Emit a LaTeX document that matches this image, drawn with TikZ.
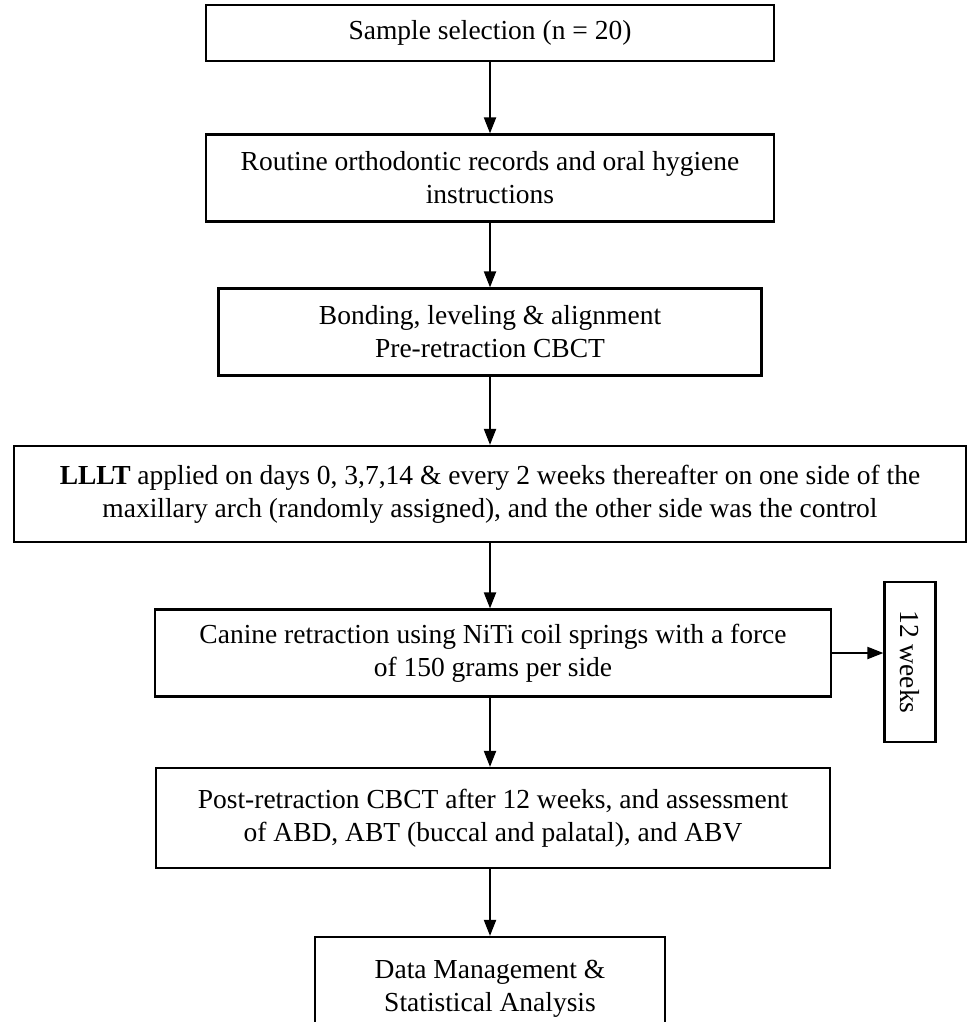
\documentclass[tikz,border=0pt]{standalone}
\usepackage{fontspec}
\setmainfont{Liberation Serif}
\usetikzlibrary{arrows.meta,positioning}

\tikzset{
  stepbox/.style={draw, line width=2.2pt, align=center, inner sep=0pt,
    font=\fontsize{27.5}{33}\selectfont},
  flow/.style={-{Triangle[length=16pt,width=12pt]}, line width=2pt}
}

\begin{document}
\begin{tikzpicture}[x=1pt,y=-1pt]
  \useasboundingbox (0,0) rectangle (966,1022);
  \node[stepbox, minimum width=568pt, minimum height=56pt] (sample) at (490,33)
    {Sample selection (n = 20)};
  \node[stepbox, minimum width=568pt, minimum height=87pt] (routine) at (490,178)
    {Routine orthodontic records and oral hygiene\\ instructions};
  \node[stepbox, minimum width=543pt, minimum height=87pt] (bonding) at (490,332)
    {Bonding, leveling \& alignment\\ Pre-retraction CBCT};
  \node[stepbox, minimum width=952pt, minimum height=96pt] (lllt) at (490,494)
    {\textbf{LLLT} applied on days 0, 3,7,14 \& every 2 weeks thereafter on one side of the\\ maxillary arch (randomly assigned), and the other side was the control};
  \node[stepbox, minimum width=676pt, minimum height=87pt] (canine) at (493,653)
    {Canine retraction using NiTi coil springs with a force\\ of 150 grams per side};
  \node[stepbox, rotate=-90, minimum width=160pt, minimum height=51pt] (weeks) at (910,662)
    {12 weeks};
  \node[stepbox, minimum width=674pt, minimum height=100pt] (post) at (493,818)
    {Post-retraction CBCT after 12 weeks, and assessment\\ of ABD, ABT (buccal and palatal), and ABV};
  \node[stepbox, minimum width=350pt, minimum height=104pt] (data) at (490,989)
    {Data Management \&\\ Statistical Analysis};

  \path[flow]
    (sample) edge (routine)
    (routine) edge (bonding)
    (bonding) edge (lllt)
    (lllt.south -| bonding.south) edge (canine.north -| bonding.south)
    (canine.south -| bonding.south) edge (post.north -| bonding.south)
    (post.south -| bonding.south) edge (data)
    (canine.east) edge (canine.east -| weeks.south);
\end{tikzpicture}
\end{document}
